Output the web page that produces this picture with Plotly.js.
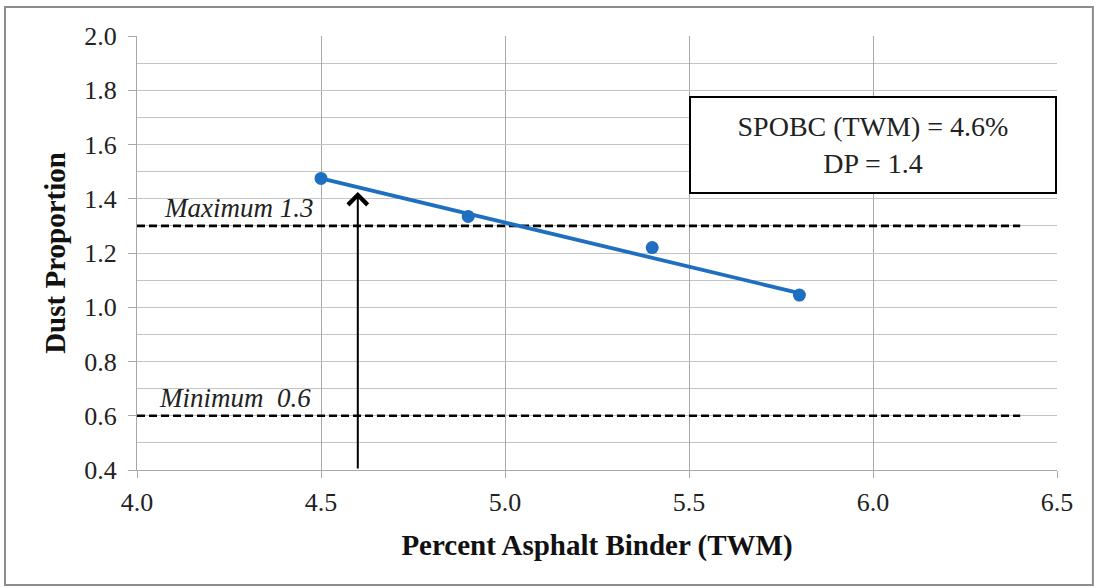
<!DOCTYPE html>
<html>
<head>
<meta charset="utf-8">
<script src="https://cdn.plot.ly/plotly-3.0.1.min.js"></script>
<style>html,body{margin:0;padding:0;background:#fff}#chart{width:1096px;height:588px}</style>
</head>
<body>
<div id="chart"></div>
<script>
// Data
const binder = [4.5, 4.9, 5.4, 5.8];
const dustProportion = [1.475, 1.335, 1.22, 1.045];
const trendX = [4.5, 5.8];
const trendY = [1.475, 1.052];
const limitX = [4.0, 6.4];
const maxLimit = [1.3, 1.3];
const minLimit = [0.6, 0.6];
const spobc = 4.6;
const arrowBottom = 0.4;
const arrowTop = 1.425;
const xTicks = [4.0, 4.5, 5.0, 5.5, 6.0, 6.5];
const yTicks = [0.4, 0.6, 0.8, 1.0, 1.2, 1.4, 1.6, 1.8, 2.0];
const boxLines = ["SPOBC (TWM) = 4.6%", "DP = 1.4"];

const serif = "Liberation Serif";
const blue = "#1f6fc1";

const traces = [
  {x: limitX, y: maxLimit, mode: "lines", line: {color: "#000", width: 2.6, dash: "8px,4px"}, hoverinfo: "skip"},
  {x: limitX, y: minLimit, mode: "lines", line: {color: "#000", width: 2.6, dash: "8px,4px"}, hoverinfo: "skip"},
  {x: trendX, y: trendY, mode: "lines", line: {color: blue, width: 3.8}},
  {x: binder, y: dustProportion, mode: "markers", marker: {color: blue, size: 13}}
];

const layout = {
  width: 1096, height: 588,
  margin: {l: 137, r: 39, t: 36, b: 118},
  showlegend: false,
  paper_bgcolor: "#fff", plot_bgcolor: "#fff",
  font: {family: serif, color: "#222", size: 26},
  xaxis: {
    range: [4.0, 6.5], tickvals: xTicks, ticktext: xTicks.map(v => v.toFixed(1)),
    showgrid: true, gridcolor: "#a8a8a8", gridwidth: 1,
    showline: true, linecolor: "#a8a8a8", linewidth: 1,
    ticks: "outside", ticklen: 7, tickcolor: "#a8a8a8", ticklabelstandoff: 2,
    zeroline: false, tickfont: {family: serif, size: 26, color: "#222"},
    title: {text: "<b>Percent Asphalt Binder (TWM)</b>", font: {family: serif, size: 29, color: "#111"}, standoff: 18}
  },
  yaxis: {
    range: [0.4, 2.0], tickvals: yTicks, ticktext: yTicks.map(v => v.toFixed(1)),
    showgrid: true, gridcolor: "#c4c4c4", gridwidth: 1,
    minor: {dtick: 0.1, showgrid: true, gridcolor: "#c4c4c4", gridwidth: 1},
    showline: true, linecolor: "#a8a8a8", linewidth: 1,
    ticks: "outside", ticklen: 8, tickcolor: "#a8a8a8", ticklabelstandoff: 6,
    zeroline: false, tickfont: {family: serif, size: 26, color: "#222"},
    title: {text: "<b>Dust Proportion</b>", font: {family: serif, size: 29, color: "#111"}, standoff: 10}
  },
  shapes: [
    {type: "rect", xref: "paper", yref: "paper", x0: -0.1435, x1: 1.039, y0: -0.265, y1: 1.067,
     line: {color: "#8c8c8c", width: 2}, fillcolor: "rgba(0,0,0,0)", layer: "below"}
  ],
  annotations: [
    {x: spobc, y: arrowTop, ax: spobc, ay: arrowBottom, xref: "x", yref: "y", axref: "x", ayref: "y",
     showarrow: true, arrowhead: 4, arrowsize: 1.9, arrowwidth: 2, arrowcolor: "#000", text: ""},
    {x: limitX[0], y: maxLimit[0], xref: "x", yref: "y", xanchor: "left", yanchor: "bottom",
     xshift: 25, yshift: 1, showarrow: false, text: "<i>Maximum 1.3</i>",
     font: {family: serif, size: 27, color: "#222"}},
    {x: limitX[0], y: minLimit[0], xref: "x", yref: "y", xanchor: "left", yanchor: "bottom",
     xshift: 20, yshift: 1, showarrow: false, text: "<i>Minimum\u00a0 0.6</i>",
     font: {family: serif, size: 27, color: "#222"}},
    {x: 6.0, y: 1.597, xref: "x", yref: "y", xanchor: "center", yanchor: "middle",
     showarrow: false, text: boxLines.join("<br>"), align: "center",
     width: 364, height: 94, borderpad: 0, bordercolor: "#000", borderwidth: 2, bgcolor: "#fff",
     font: {family: serif, size: 28, color: "#222"}}
  ]
};

Plotly.newPlot("chart", traces, layout, {displayModeBar: false, staticPlot: true});
</script>
</body>
</html>
